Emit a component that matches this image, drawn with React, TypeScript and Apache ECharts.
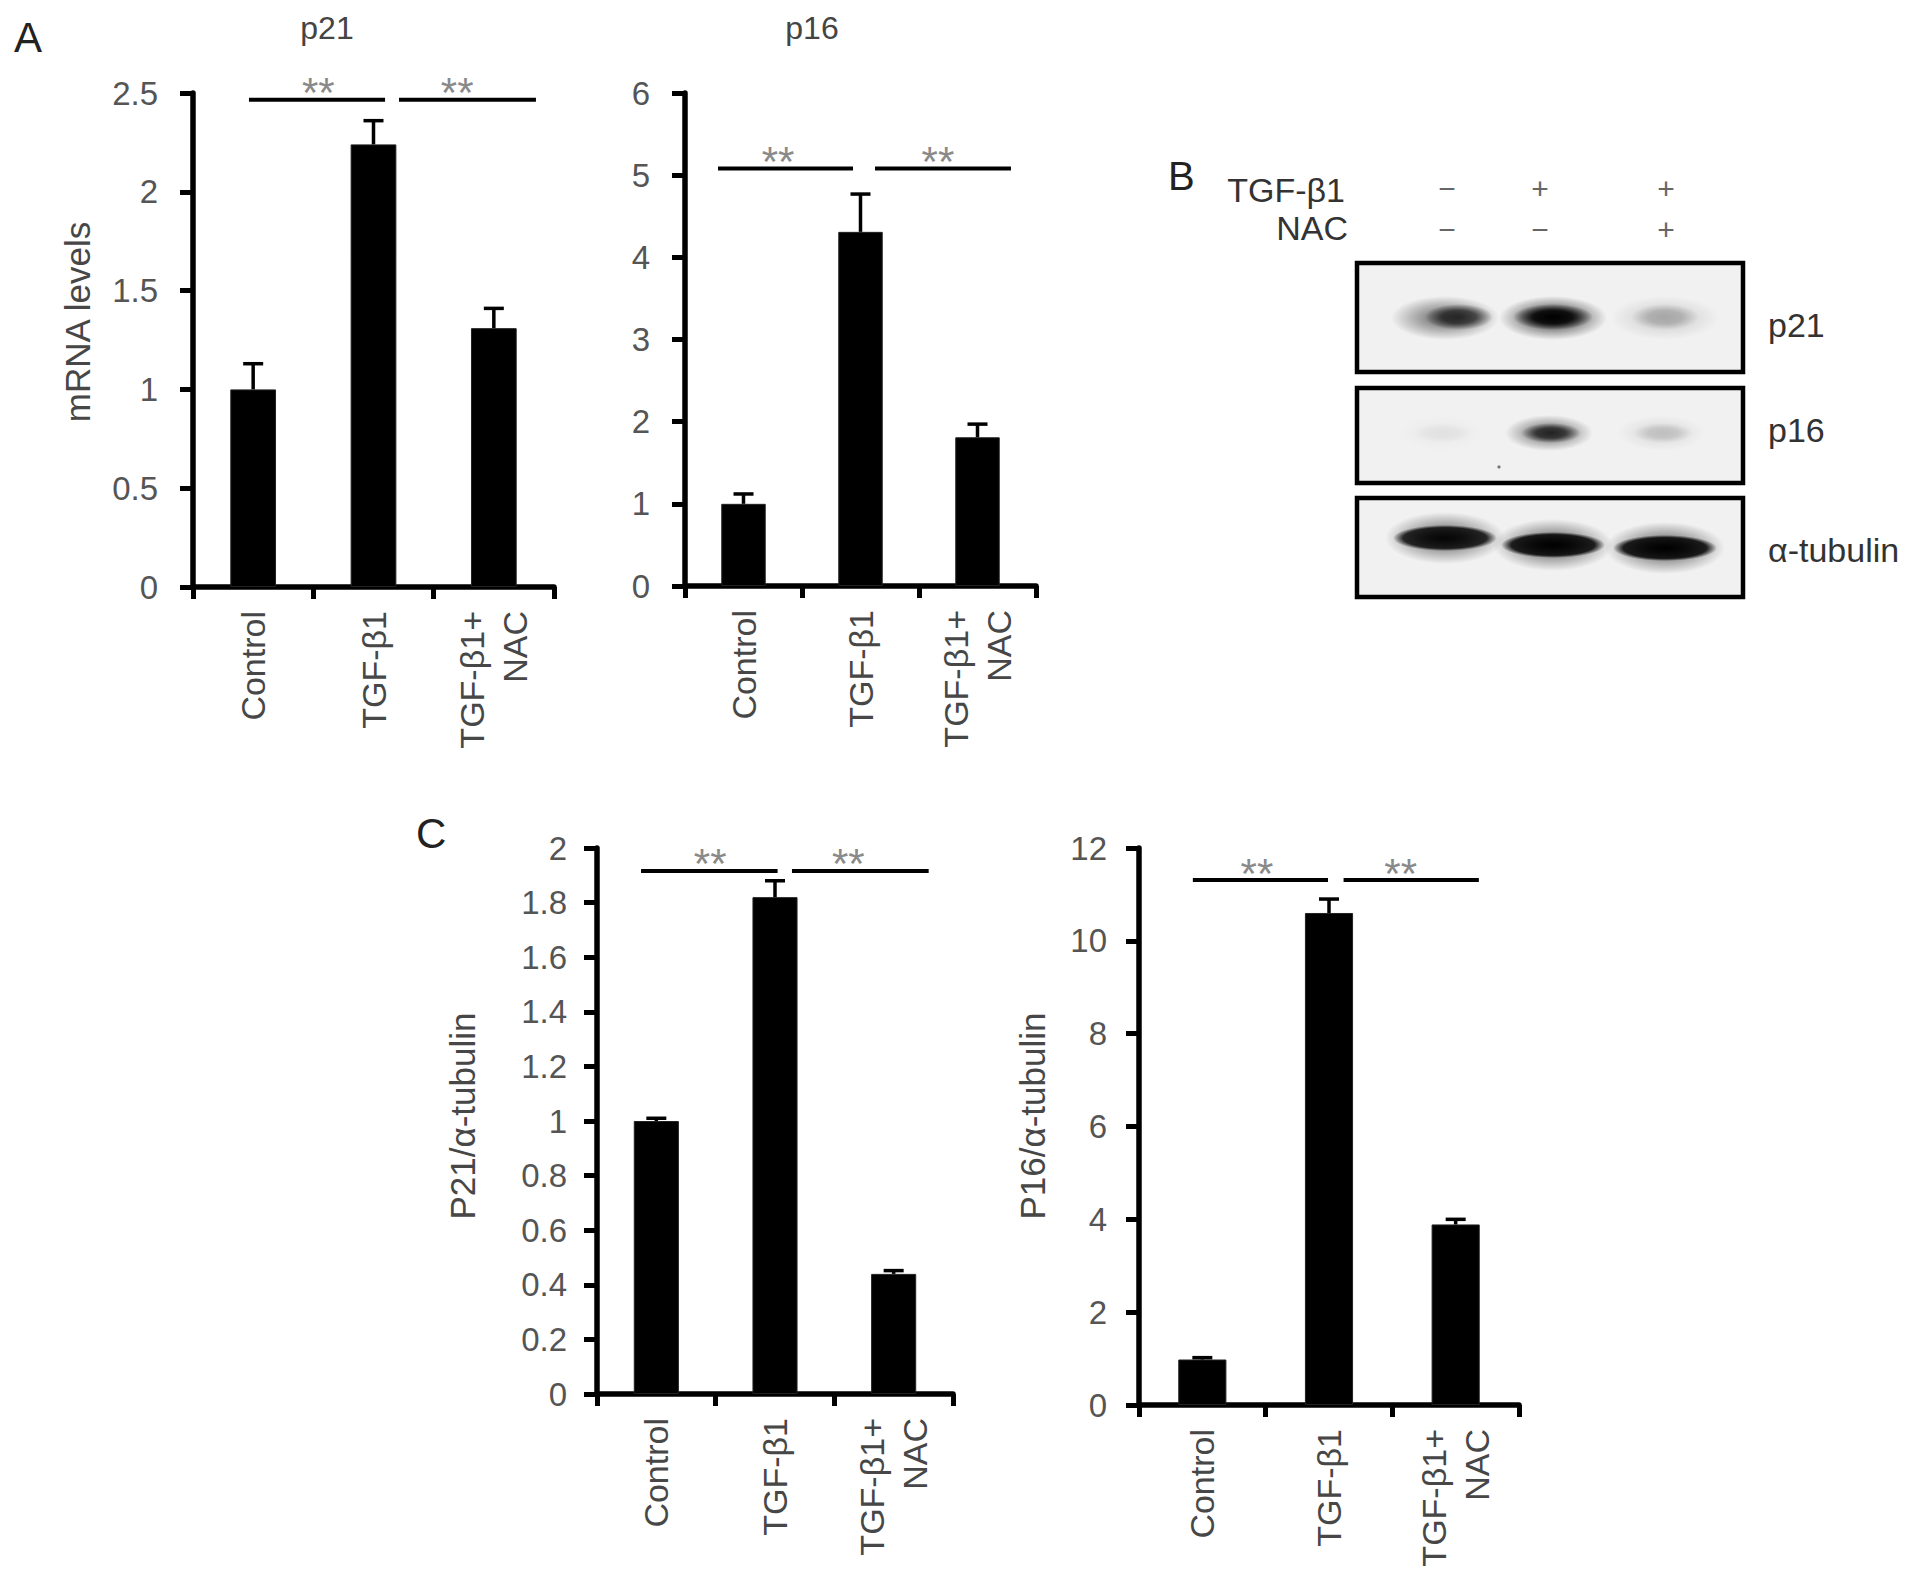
import React, { useEffect, useRef } from 'react';
import * as echarts from 'echarts';

// ---------- data ----------
const categories = ['Control', 'TGF-β1', 'TGF-β1+\nNAC'];

// A: mRNA levels
const p21MrnaMean = [1.0, 2.24, 1.31];
const p21MrnaErr = [0.13, 0.12, 0.1];
const p16MrnaMean = [1.0, 4.31, 1.81];
const p16MrnaErr = [0.12, 0.46, 0.16];

// C: protein / alpha-tubulin
const p21ProtMean = [1.0, 1.82, 0.44];
const p21ProtErr = [0.01, 0.06, 0.012];
const p16ProtMean = [0.98, 10.6, 3.89];
const p16ProtErr = [0.04, 0.3, 0.11];

// significance brackets: [from, to, y, starX] (x in category units from first category centre)
const p21MrnaSig = [
  [-0.035, 1.096, 2.466, 0.541],
  [1.212, 2.35, 2.466, 1.695],
];
const p16MrnaSig = [
  [-0.218, 0.936, 5.08, 0.295],
  [1.124, 2.286, 5.08, 1.662],
];
const p21ProtSig = [
  [-0.129, 1.022, 1.916, 0.454],
  [1.143, 2.295, 1.916, 1.618],
];
const p16ProtSig = [
  [-0.075, 0.992, 11.31, 0.431],
  [1.115, 2.183, 11.31, 1.566],
];

// B: western blot
const blotRowTGF = ['−', '+', '+'];
const blotRowNAC = ['−', '−', '+'];
const p21BandIntensity = [0.72, 1.0, 0.2];
const p16BandIntensity = [0.04, 0.72, 0.13];
const tubulinBandIntensity = [0.95, 1.0, 1.0];

// ---------- styling ----------
const FONT = '"Liberation Sans", Arial, Helvetica, sans-serif';
const LABEL_GREY = '#474747';

type Panel = {
  left: number; top: number; width: number; height: number;
  max: number; interval: number;
  mean: number[]; err: number[]; sig: number[][];
  labelMargin: number;
};

const panels: Panel[] = [
  { left: 193, top: 93, width: 361, height: 494, max: 2.5, interval: 0.5, mean: p21MrnaMean, err: p21MrnaErr, sig: p21MrnaSig, labelMargin: 35 },
  { left: 685, top: 93, width: 351, height: 493, max: 6, interval: 1, mean: p16MrnaMean, err: p16MrnaErr, sig: p16MrnaSig, labelMargin: 35 },
  { left: 597, top: 848, width: 356, height: 546, max: 2, interval: 0.2, mean: p21ProtMean, err: p21ProtErr, sig: p21ProtSig, labelMargin: 30 },
  { left: 1139, top: 848, width: 380, height: 557, max: 12, interval: 2, mean: p16ProtMean, err: p16ProtErr, sig: p16ProtSig, labelMargin: 32 },
];

function buildOption() {
  const grid: any[] = [];
  const xAxis: any[] = [];
  const yAxis: any[] = [];
  const series: any[] = [];

  panels.forEach((p, i) => {
    grid.push({ left: p.left, top: p.top, width: p.width, height: p.height, containLabel: false });
    xAxis.push({
      type: 'category',
      gridIndex: i,
      data: categories,
      axisLine: { show: true, lineStyle: { color: '#000', width: 5.5 } },
      axisTick: { show: true, length: 12, lineStyle: { color: '#000', width: 5 } },
      axisLabel: {
        interval: 0,
        rotate: 90,
        margin: 24,
        fontSize: 34,
        lineHeight: 43,
        fontFamily: FONT,
        color: LABEL_GREY,
      },
      splitLine: { show: false },
    });
    yAxis.push({
      type: 'value',
      gridIndex: i,
      min: 0,
      max: p.max,
      interval: p.interval,
      axisLine: { show: true, lineStyle: { color: '#000', width: 5.5 } },
      axisTick: { show: true, length: 13, lineStyle: { color: '#000', width: 5 } },
      axisLabel: { fontSize: 33, margin: p.labelMargin, fontFamily: FONT, color: '#555' },
      splitLine: { show: false },
    });
    series.push({
      type: 'bar',
      xAxisIndex: i,
      yAxisIndex: i,
      data: p.mean,
      barWidth: '38%',
      itemStyle: { color: '#000', borderColor: '#222', borderWidth: 1 },
      silent: true,
      z: 2,
    });
    series.push({
      type: 'custom',
      xAxisIndex: i,
      yAxisIndex: i,
      data: p.mean.map((m, k) => [k, m + p.err[k], m]),
      encode: { x: 0, y: 1 },
      z: 3,
      silent: true,
      renderItem: (params: any, api: any) => {
        const k = api.value(0);
        const top = api.coord([k, api.value(1)]);
        const base = api.coord([k, api.value(2)]);
        const cap = 10;
        return {
          type: 'group',
          children: [
            { type: 'line', shape: { x1: top[0], y1: base[1], x2: top[0], y2: top[1] }, style: { stroke: '#000', lineWidth: 3.5 } },
            { type: 'line', shape: { x1: top[0] - cap, y1: top[1], x2: top[0] + cap, y2: top[1] }, style: { stroke: '#000', lineWidth: 3.5 } },
          ],
        };
      },
    });
    series.push({
      type: 'custom',
      xAxisIndex: i,
      yAxisIndex: i,
      data: p.sig.map((s) => [0, s[2], s[0], s[1], s[3]]),
      encode: { x: 0, y: 1 },
      z: 3,
      silent: true,
      renderItem: (params: any, api: any) => {
        const y = api.value(1);
        const p0 = api.coord([0, y]);
        const bw = api.size([1, 0])[0];
        const xa = p0[0] + api.value(2) * bw;
        const xb = p0[0] + api.value(3) * bw;
        const xs = p0[0] + api.value(4) * bw;
        return {
          type: 'group',
          children: [
            { type: 'line', shape: { x1: xa, y1: p0[1], x2: xb, y2: p0[1] }, style: { stroke: '#000', lineWidth: 4 } },
            {
              type: 'text',
              x: xs,
              y: p0[1] - 7,
              style: { text: '**', fill: '#8a8a8a', font: `42px ${FONT}`, align: 'center', verticalAlign: 'middle' },
            },
          ],
        };
      },
    });
  });

  const txt = (text: string, x: number, y: number, size: number, color: string, align = 'left', rotation = 0, extra: any = {}) => ({
    type: 'text',
    x,
    y,
    rotation,
    silent: true,
    style: { text, fill: color, font: `${size}px ${FONT}`, align, verticalAlign: 'middle', ...extra },
  });

  const elements: any[] = [];
  // panel letters
  elements.push(txt('A', 14, 37, 42, '#222'));
  elements.push(txt('B', 1168, 176, 40, '#222'));
  elements.push(txt('C', 416, 833, 42, '#222'));
  // titles
  elements.push(txt('p21', 327, 28, 32, '#444', 'center'));
  elements.push(txt('p16', 812, 28, 32, '#444', 'center'));
  // y-axis titles
  elements.push(txt('mRNA levels', 77, 322, 35, LABEL_GREY, 'center', Math.PI / 2));
  elements.push(txt('P21/α-tubulin', 462, 1116, 35, LABEL_GREY, 'center', Math.PI / 2));
  elements.push(txt('P16/α-tubulin', 1032, 1116, 35, LABEL_GREY, 'center', Math.PI / 2));

  // ---------- panel B: blot ----------
  const lanesX = [1445, 1553, 1665];
  const signX = [1447, 1540, 1666];
  elements.push(txt('TGF-β1', 1345, 190, 34, '#333', 'right'));
  elements.push(txt('NAC', 1348, 228, 34, '#333', 'right'));
  blotRowTGF.forEach((s, k) => elements.push(txt(s, signX[k], 188, 30, '#666', 'center')));
  blotRowNAC.forEach((s, k) => elements.push(txt(s, signX[k], 229, 30, '#666', 'center')));

  const boxes = [
    { y: 263, h: 109, label: 'p21', ly: 325 },
    { y: 388, h: 95, label: 'p16', ly: 430 },
    { y: 498, h: 99, label: 'α-tubulin', ly: 550 },
  ];
  boxes.forEach((b) => {
    elements.push({
      type: 'rect',
      silent: true,
      shape: { x: 1357, y: b.y, width: 386, height: b.h },
      style: { fill: '#f1f1f1', stroke: '#000', lineWidth: 4.5 },
      z: 1,
    });
    elements.push(txt(b.label, 1768, b.ly, 34, '#333', 'left'));
  });

  const band = (cx: number, cy: number, rx: number, ry: number, a: number, hard = 0.35) => ({
    type: 'ellipse',
    silent: true,
    z: 2,
    shape: { cx, cy, rx, ry },
    style: {
      fill: new echarts.graphic.RadialGradient(0.5, 0.5, 0.5, [
        { offset: 0, color: `rgba(0,0,0,${a})` },
        { offset: hard, color: `rgba(0,0,0,${a * 0.85})` },
        { offset: 1, color: 'rgba(0,0,0,0)' },
      ]),
    },
  });

  // p21 bands
  const p21Y = 318;
  p21BandIntensity.forEach((a, k) => {
    elements.push(band(lanesX[k], p21Y, 54, 22, a * 0.7, 0.3));
    elements.push(band(lanesX[k] + (k === 0 ? 14 : 0), p21Y - 1, k === 1 ? 40 : 34, 13, a, 0.5));
  });
  // p16 bands
  const p16Y = 433;
  p16BandIntensity.forEach((a, k) => {
    elements.push(band(lanesX[k] - 4, p16Y, 44, 18, a * 0.7, 0.3));
    elements.push(band(lanesX[k] - 2, p16Y, 30, 10, a, 0.5));
  });
  // dust speck
  elements.push({ type: 'circle', silent: true, z: 2, shape: { cx: 1499, cy: 467, r: 1.6 }, style: { fill: '#777' } });
  // tubulin bands
  const tubY = [538, 545, 548];
  tubulinBandIntensity.forEach((a, k) => {
    elements.push(band(lanesX[k], tubY[k], 60, 26, a * 0.55, 0.3));
    elements.push(band(lanesX[k], tubY[k], 52, 13, a, 0.8));
  });

  return {
    animation: false,
    backgroundColor: '#ffffff',
    grid,
    xAxis,
    yAxis,
    series,
    graphic: { elements },
  };
}

export default function App() {
  const ref = useRef<HTMLDivElement>(null);
  useEffect(() => {
    if (!ref.current) return;
    const chart = echarts.init(ref.current, undefined, { renderer: 'svg' });
    chart.setOption(buildOption() as any);
    return () => chart.dispose();
  }, []);
  return (
    <div
      ref={ref}
      style={{ position: 'absolute', left: 0, top: 0, width: 1913, height: 1583, background: '#fff' }}
    />
  );
}
